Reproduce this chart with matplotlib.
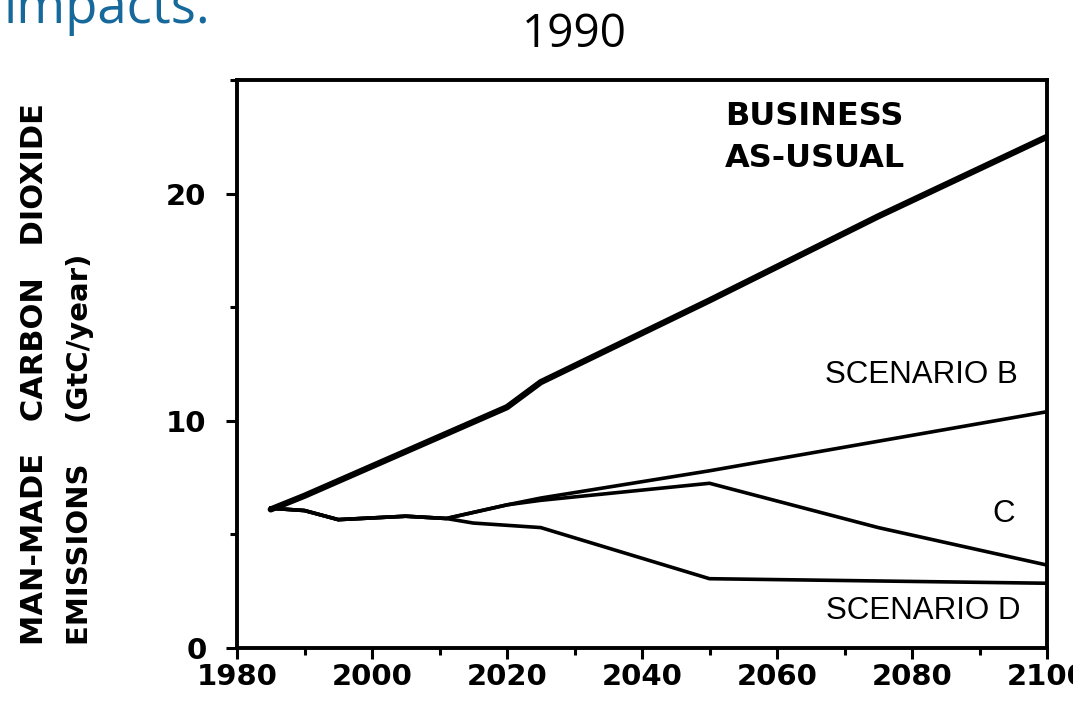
import numpy as np
import matplotlib.pyplot as plt
from matplotlib.ticker import MultipleLocator

# emissions scenarios (GtC/year)
bau_years = [1985, 1990, 2000, 2010, 2020, 2025, 2050, 2075, 2100]
bau_vals = [6.1, 6.7, 8.0, 9.3, 10.6, 11.7, 15.3, 19.0, 22.5]

b_years = [1985, 1990, 1995, 2005, 2011, 2020, 2025, 2050, 2100]
b_vals = [6.15, 6.05, 5.65, 5.8, 5.7, 6.3, 6.6, 7.8, 10.4]

c_years = [1985, 1990, 1995, 2005, 2011, 2020, 2025, 2050, 2075, 2100]
c_vals = [6.15, 6.05, 5.65, 5.8, 5.7, 6.3, 6.5, 7.25, 5.3, 3.65]

d_years = [1985, 1990, 1995, 2005, 2011, 2015, 2025, 2050, 2100]
d_vals = [6.15, 6.05, 5.65, 5.8, 5.7, 5.5, 5.3, 3.05, 2.85]

xticks = [1980, 2000, 2020, 2040, 2060, 2080, 2100]
yticks = [0, 10, 20]

W, H = 1073, 709
fig = plt.figure(figsize=(W / 100, H / 100), dpi=100)
ax = fig.add_axes([237 / W, 1 - 648 / H, (1047 - 237) / W, (648 - 80) / H])

ax.plot(bau_years, bau_vals, 'k-', lw=4.5, solid_capstyle='round', solid_joinstyle='round')
ax.plot(b_years, b_vals, 'k-', lw=2.6, solid_joinstyle='round')
ax.plot(c_years, c_vals, 'k-', lw=2.6, solid_joinstyle='round')
ax.plot(d_years, d_vals, 'k-', lw=2.6, solid_joinstyle='round')

ax.set_xlim(1980, 2100)
ax.set_ylim(0, 25)
ax.set_xticks(xticks)
ax.set_yticks(yticks)
ax.xaxis.set_minor_locator(MultipleLocator(10))
ax.yaxis.set_minor_locator(MultipleLocator(5))
for s in ax.spines.values():
    s.set_linewidth(2.8)
ax.tick_params(which='major', length=8, width=2.2, pad=3)
ax.tick_params(which='minor', length=5, width=2.2)
ax.tick_params(axis='y', which='major', pad=14)
for lab in ax.get_xticklabels() + ax.get_yticklabels():
    lab.set_fontsize(21)
    lab.set_fontweight('bold')

# labels inside the plot
ax.text(2052.3, 23.4, 'BUSINESS', fontsize=23, fontweight='bold',
        va='center', ha='left')
ax.text(2052.3, 21.55, 'AS-USUAL', fontsize=23, fontweight='bold',
        va='center', ha='left')
ax.text(2095.6, 12.0, 'SCENARIO B', fontsize=22.5, family='Liberation Sans',
        ha='right', va='center')
ax.text(2095.3, 5.9, 'C', fontsize=22.5, family='Liberation Sans',
        ha='right', va='center')
ax.text(2096.0, 1.65, 'SCENARIO D', fontsize=22.5, family='Liberation Sans',
        ha='right', va='center')

# y axis title, two rotated lines
fig.text(35 / W, 1 - 645 / H, 'MAN-MADE   CARBON   DIOXIDE', rotation=90,
         fontsize=22, fontweight='bold', ha='center', va='bottom')
fig.text(80 / W, 1 - 645 / H, 'EMISSIONS    (GtC/year)', rotation=90,
         fontsize=21, fontweight='bold', ha='center', va='bottom')

# slide text
fig.text(4 / W, 1 - 23 / H, 'impacts.', fontsize=38, color='#17699b',
         family='Open Sans', va='baseline', ha='left')
fig.text(574 / W, 1 - 35 / H, '1990', fontsize=33, family='Open Sans',
         va='center', ha='center')

fig.savefig('out.png', dpi=100)
